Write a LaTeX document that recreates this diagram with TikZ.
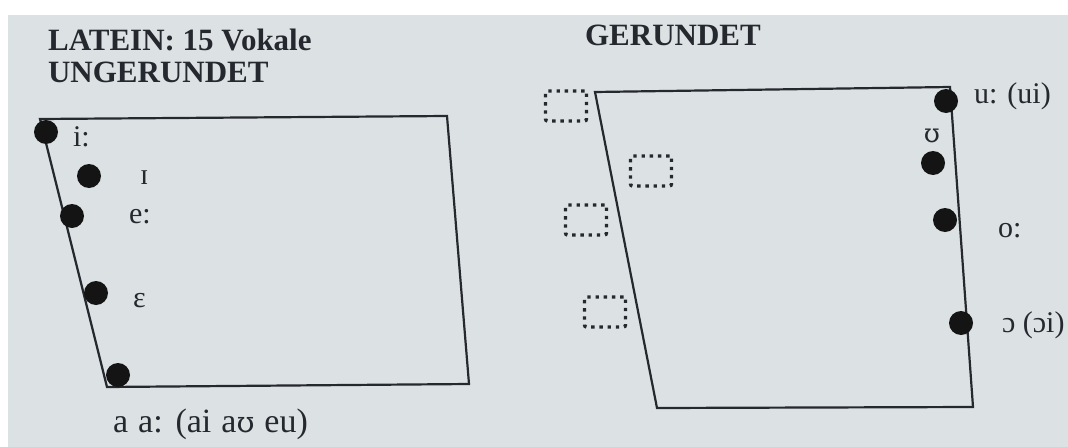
\documentclass[tikz,border=0pt]{standalone}
\usepackage{fontspec}
\setmainfont{Liberation Serif}
\newfontfamily\ipaserif{DejaVu Serif}
\usetikzlibrary{positioning}
\definecolor{papier}{HTML}{DCE2E4}
\definecolor{tinte}{HTML}{25282E}
\newcommand{\weit}{\spaceskip=10pt\relax}

\begin{document}
\begin{tikzpicture}[x=1pt, y=-1pt, line width=2.2pt, color=tinte,
	laut/.style={circle, fill=black!92, inner sep=0pt, minimum size=24pt},
	ipa/.style={anchor=base west, inner sep=0pt, font=\fontsize{30}{30}\selectfont},
	titel/.style={anchor=base west, inner sep=0pt, font=\fontsize{31}{31}\selectfont\bfseries},
	leer/.style={draw, line width=3.4pt, dash pattern=on 3.4pt off 4.8pt, rounded corners=2pt,
		minimum width=41pt, minimum height=30pt, inner sep=0pt}]
	{
		% Papier
		\fill[white] (0,0) rectangle (1068,447);
		\fill[papier] (8,15) rectangle (1068,447);
		\useasboundingbox (0,0) rectangle (1068,447);

		\node (latein) [titel] at (47,50) {LATEIN: 15 Vokale};
		\node (ungerundet) [titel] at (47,82) {UNGERUNDET};
		\node (gerundet) [titel] at (584,45) {GERUNDET};

		% ungerundet
		\coordinate (vl) at (40,119);
		\coordinate (vr) at (447,116);
		\coordinate (hr) at (469,384);
		\coordinate (hl) at (107,387);
		\draw (vl) -- (vr) -- (hr) -- (hl) -- cycle;

		\node (ilang) [laut] at (46,132) {};
		\node (ikurz) [laut] at (89,176) {};
		\node (elang) [laut] at (72,216) {};
		\node (ekurz) [laut] at (96,293) {};
		\node (alaut) [laut] at (118,375) {};

		\node (ilangtext) [ipa] at (72,146) {i:};
		\node (ikurztext) [ipa] at (139,184) {ɪ};
		\node (elangtext) [ipa] at (128,223) {e:};
		\node (ekurztext) [ipa] at (132,307) {ɛ};
		\node (atext) [ipa, font=\fontsize{34}{34}\selectfont] at (112,432)
			{\weit a a: (ai a{\ipaserif\fontsize{29}{29}\selectfont ʊ} eu)};

		% gerundet
		\coordinate (gvl) at (595,92);
		\coordinate (gvr) at (950,87);
		\coordinate (ghr) at (973,407);
		\coordinate (ghl) at (657,408);
		\draw (gvl) -- (gvr) -- (ghr) -- (ghl) -- cycle;

		\node (ulang) [laut] at (946,101) {};
		\node (ukurz) [laut] at (933,163) {};
		\node (olang) [laut] at (945,220) {};
		\node (okurz) [laut] at (961,323) {};

		\node (ulangtext) [ipa] at (973,103) {u: (ui)};
		\node (ukurztext) [ipa, anchor=base, font=\ipaserif\fontsize{26}{26}\selectfont] at (932,142) {ʊ};
		\node (olangtext) [ipa] at (997,237) {o:};
		\node (okurztext) [ipa] at (1001,332) {ɔ (ɔi)};

		\node (leer1) [leer] at (566,106) {};
		\node (leer2) [leer] at (651,171) {};
		\node (leer3) [leer] at (586,220) {};
		\node (leer4) [leer] at (605,312) {};
	}
\end{tikzpicture}
\end{document}
